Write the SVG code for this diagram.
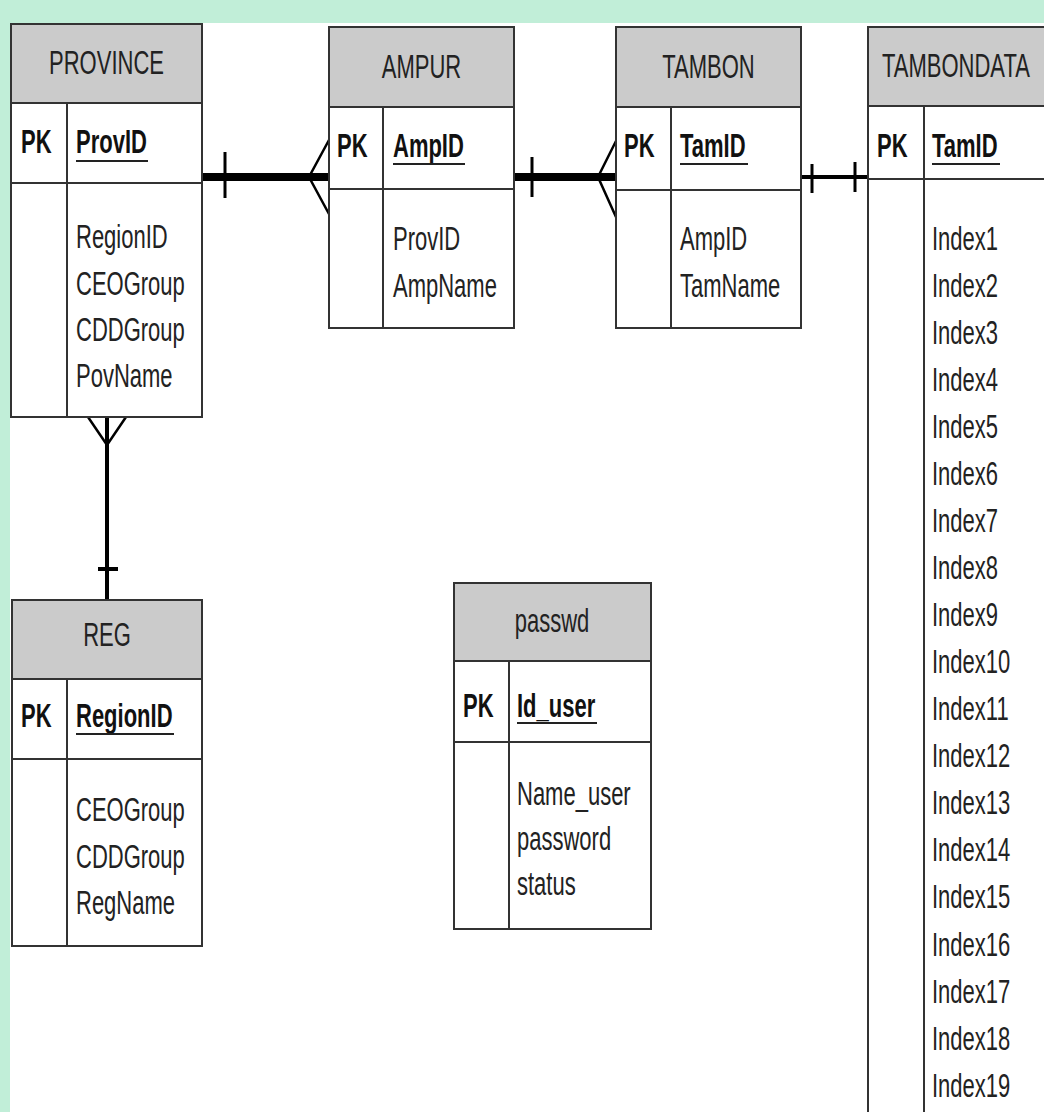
<svg xmlns="http://www.w3.org/2000/svg" width="1044" height="1112" viewBox="0 0 1044 1112">
<style>
.box{fill:#ffffff;stroke:#333333;stroke-width:2}
.hdr{fill:#cbcbcb;stroke:#333333;stroke-width:2}
.ln{stroke:#333333;stroke-width:2;fill:none}
.ul{stroke:#222222;stroke-width:2}
text{font-family:"Liberation Sans",Arial,sans-serif;font-size:22px;fill:#222222}
.t{text-anchor:middle}
.b{font-weight:bold;fill:#111111}
.c{stroke:#000000;fill:none;stroke-linecap:butt}
</style>
<rect x="0" y="0" width="1044" height="1112" fill="#ffffff"/>
<rect x="0" y="0" width="1044" height="23" fill="#c1eed8"/>
<rect x="0" y="0" width="10" height="1112" fill="#c1eed8"/>

<g id="connectors">
  <!-- PROVINCE - AMPUR -->
  <line class="c" x1="202" y1="177" x2="329" y2="177" stroke-width="8"/>
  <line class="c" x1="225" y1="152" x2="225" y2="198" stroke-width="3"/>
  <polyline class="c" points="329,140 309,177 329,214" stroke-width="2.5"/>
  <!-- AMPUR - TAMBON -->
  <line class="c" x1="514" y1="177" x2="616" y2="177" stroke-width="8"/>
  <line class="c" x1="532" y1="157" x2="532" y2="197" stroke-width="3"/>
  <polyline class="c" points="616,141 598,177 616,217" stroke-width="2.5"/>
  <!-- TAMBON - TAMBONDATA -->
  <line class="c" x1="801" y1="177" x2="868" y2="177" stroke-width="4"/>
  <line class="c" x1="812" y1="164" x2="812" y2="193" stroke-width="3"/>
  <line class="c" x1="855" y1="162" x2="855" y2="192" stroke-width="3"/>
  <!-- PROVINCE - REG -->
  <line class="c" x1="107" y1="417" x2="107" y2="600" stroke-width="4"/>
  <polyline class="c" points="88,417 107,445 126,417" stroke-width="2.5"/>
  <line class="c" x1="98" y1="569" x2="118" y2="569" stroke-width="4"/>
</g>

<g id="PROVINCE">
  <rect class="box" x="11" y="24" width="191" height="393"/>
  <rect class="hdr" x="11" y="24" width="191" height="79"/>
  <line class="ln" x1="11" y1="183" x2="202" y2="183"/>
  <line class="ln" x1="67" y1="103" x2="67" y2="417"/>
  <text class="t" transform="translate(106.5,74) scale(1,1.55)">PROVINCE</text>
  <text class="b" transform="translate(21,153) scale(1,1.55)">PK</text>
  <text class="b" transform="translate(76,153) scale(1,1.55)">ProvID</text>
  <line class="ul" x1="76" y1="161" x2="148" y2="161"/>
  <text transform="translate(76,248) scale(1,1.55)">RegionID</text>
  <text transform="translate(76,295) scale(1,1.55)">CEOGroup</text>
  <text transform="translate(76,341) scale(1,1.55)">CDDGroup</text>
  <text transform="translate(76,387) scale(1,1.55)">PovName</text>
</g>

<g id="AMPUR">
  <rect class="box" x="329" y="27" width="185" height="301"/>
  <rect class="hdr" x="329" y="27" width="185" height="80"/>
  <line class="ln" x1="329" y1="189" x2="514" y2="189"/>
  <line class="ln" x1="383" y1="107" x2="383" y2="328"/>
  <text class="t" transform="translate(421.5,78) scale(1,1.55)">AMPUR</text>
  <text class="b" transform="translate(337,157) scale(1,1.55)">PK</text>
  <text class="b" transform="translate(393,157) scale(1,1.55)">AmpID</text>
  <line class="ul" x1="393" y1="164" x2="465" y2="164"/>
  <text transform="translate(393,250) scale(1,1.55)">ProvID</text>
  <text transform="translate(393,297) scale(1,1.55)">AmpName</text>
</g>

<g id="TAMBON">
  <rect class="box" x="616" y="27" width="185" height="301"/>
  <rect class="hdr" x="616" y="27" width="185" height="80"/>
  <line class="ln" x1="616" y1="190" x2="801" y2="190"/>
  <line class="ln" x1="671" y1="107" x2="671" y2="328"/>
  <text class="t" transform="translate(708.5,78) scale(1,1.55)">TAMBON</text>
  <text class="b" transform="translate(624,157) scale(1,1.55)">PK</text>
  <text class="b" transform="translate(680,157) scale(1,1.55)">TamID</text>
  <line class="ul" x1="680" y1="164" x2="748" y2="164"/>
  <text transform="translate(680,250) scale(1,1.55)">AmpID</text>
  <text transform="translate(680,297) scale(1,1.55)">TamName</text>
</g>

<g id="TAMBONDATA">
  <rect class="box" x="868" y="27" width="190" height="1100"/>
  <rect class="hdr" x="868" y="27" width="190" height="79"/>
  <line class="ln" x1="868" y1="179" x2="1058" y2="179"/>
  <line class="ln" x1="924" y1="106" x2="924" y2="1127"/>
  <text transform="translate(882,77) scale(1,1.55)">TAMBONDATA</text>
  <text class="b" transform="translate(877,157) scale(1,1.55)">PK</text>
  <text class="b" transform="translate(932,157) scale(1,1.55)">TamID</text>
  <line class="ul" x1="932" y1="164" x2="1000" y2="164"/>
  <text transform="translate(932,250) scale(1,1.55)">Index1</text>
  <text transform="translate(932,297) scale(1,1.55)">Index2</text>
  <text transform="translate(932,344) scale(1,1.55)">Index3</text>
  <text transform="translate(932,391) scale(1,1.55)">Index4</text>
  <text transform="translate(932,438) scale(1,1.55)">Index5</text>
  <text transform="translate(932,485) scale(1,1.55)">Index6</text>
  <text transform="translate(932,532) scale(1,1.55)">Index7</text>
  <text transform="translate(932,579) scale(1,1.55)">Index8</text>
  <text transform="translate(932,626) scale(1,1.55)">Index9</text>
  <text transform="translate(932,673) scale(1,1.55)">Index10</text>
  <text transform="translate(932,720) scale(1,1.55)">Index11</text>
  <text transform="translate(932,767) scale(1,1.55)">Index12</text>
  <text transform="translate(932,814) scale(1,1.55)">Index13</text>
  <text transform="translate(932,861) scale(1,1.55)">Index14</text>
  <text transform="translate(932,908) scale(1,1.55)">Index15</text>
  <text transform="translate(932,956) scale(1,1.55)">Index16</text>
  <text transform="translate(932,1003) scale(1,1.55)">Index17</text>
  <text transform="translate(932,1050) scale(1,1.55)">Index18</text>
  <text transform="translate(932,1097) scale(1,1.55)">Index19</text>
</g>

<g id="REG">
  <rect class="box" x="12" y="600" width="190" height="346"/>
  <rect class="hdr" x="12" y="600" width="190" height="79"/>
  <line class="ln" x1="12" y1="759" x2="202" y2="759"/>
  <line class="ln" x1="67" y1="679" x2="67" y2="946"/>
  <text class="t" transform="translate(107,646) scale(1,1.55)">REG</text>
  <text class="b" transform="translate(21,727) scale(1,1.55)">PK</text>
  <text class="b" transform="translate(76,727) scale(1,1.55)">RegionID</text>
  <line class="ul" x1="76" y1="734" x2="174" y2="734"/>
  <text transform="translate(76,821) scale(1,1.55)">CEOGroup</text>
  <text transform="translate(76,868) scale(1,1.55)">CDDGroup</text>
  <text transform="translate(76,914) scale(1,1.55)">RegName</text>
</g>

<g id="passwd">
  <rect class="box" x="454" y="583" width="197" height="346"/>
  <rect class="hdr" x="454" y="583" width="197" height="78"/>
  <line class="ln" x1="454" y1="742" x2="651" y2="742"/>
  <line class="ln" x1="509" y1="661" x2="509" y2="929"/>
  <text class="t" transform="translate(552,632) scale(1,1.55)">passwd</text>
  <text class="b" transform="translate(463,717) scale(1,1.55)">PK</text>
  <text class="b" transform="translate(517,717) scale(1,1.55)">Id_user</text>
  <line class="ul" x1="517" y1="723" x2="597" y2="723"/>
  <text transform="translate(517,805) scale(1,1.55)">Name_user</text>
  <text transform="translate(517,850) scale(1,1.55)">password</text>
  <text transform="translate(517,895) scale(1,1.55)">status</text>
</g>
</svg>
